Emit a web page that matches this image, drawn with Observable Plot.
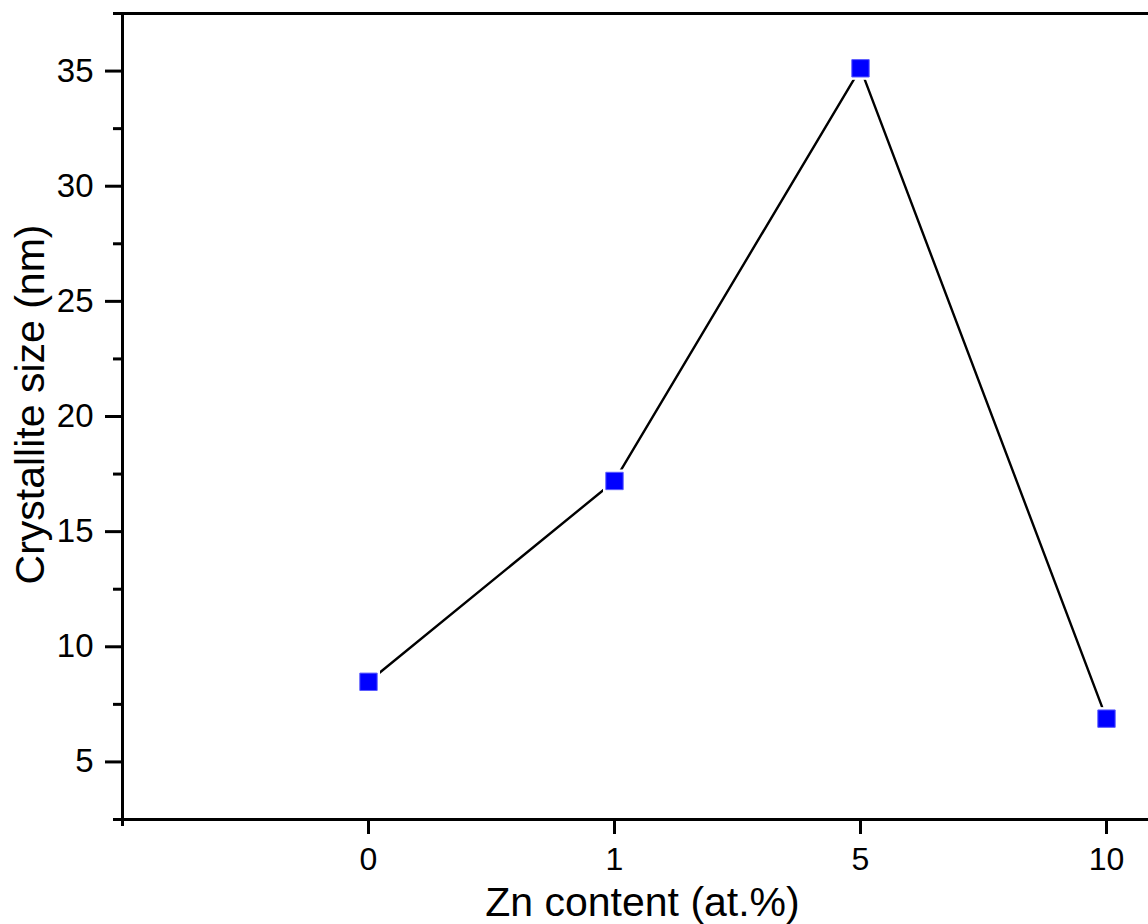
<!DOCTYPE html>
<html><head><meta charset="utf-8">
<script src="https://cdn.jsdelivr.net/npm/d3@7"></script>
<script src="https://cdn.jsdelivr.net/npm/@observablehq/plot@0.6"></script>
<style>html,body{margin:0;padding:0;background:#fff;overflow:hidden;}</style>
</head><body><div id="chart"></div>
<script>
const znContent = ["0", "1", "5", "10"];
const crystalliteSize = [8.48, 17.2, 35.12, 6.88];
const yMajorTicks = [5, 10, 15, 20, 25, 30, 35];
const yMinorTicks = [2.5, 7.5, 12.5, 17.5, 22.5, 27.5, 32.5, 37.5];
const xTitle = "Zn content (at.%)";
const yTitle = "Crystallite size (nm)";

const data = znContent.map((label, i) => ({i, label, size: crystalliteSize[i]}));

const chart = Plot.plot({
  width: 1148,
  height: 924,
  marginLeft: 122,
  marginRight: 0,
  marginTop: 13,
  marginBottom: 105,
  style: {fontFamily: "'Liberation Sans', Arial, sans-serif", background: "white", color: "black"},
  x: {type: "linear", domain: [-1, 4], range: [122, 1352]},
  y: {domain: [2.5, 37.5]},
  marks: [
    Plot.line(data, {x: "i", y: "size", stroke: "black", strokeWidth: 2.4}),
    Plot.dot(data, {x: "i", y: "size", symbol: "square", r: 13, fill: "white"}),
    Plot.dot(data, {x: "i", y: "size", symbol: "square", r: 9.8, fill: "#0000ff", stroke: "#5a5aff", strokeWidth: 1}),
    Plot.axisY({ticks: yMinorTicks, tickSize: 9, tickFormat: () => "", label: null, strokeWidth: 3}),
    Plot.axisY({ticks: yMajorTicks, tickSize: 17, tickPadding: 12, fontSize: 33, label: null, strokeWidth: 3}),
    Plot.axisX({ticks: [0, 1, 2, 3], tickFormat: i => znContent[i], tickSize: 15, tickPadding: 13, fontSize: 32, label: null, strokeWidth: 3}),
    Plot.axisX({ticks: [-1], tickSize: 7, tickFormat: () => "", label: null, strokeWidth: 3}),
    Plot.ruleX([-1], {strokeWidth: 3}),
    Plot.ruleY([2.5, 37.5], {strokeWidth: 3}),
    Plot.text([xTitle], {text: d => d, frameAnchor: "bottom", textAnchor: "middle", dx: 7, dy: 96, fontSize: 41, lineAnchor: "bottom"}),
    Plot.text([yTitle], {text: d => d, frameAnchor: "left", textAnchor: "middle", rotate: -90, dx: -79, dy: -12, fontSize: 41, lineAnchor: "bottom"})
  ]
});
document.getElementById("chart").appendChild(chart);
</script>
</body></html>
